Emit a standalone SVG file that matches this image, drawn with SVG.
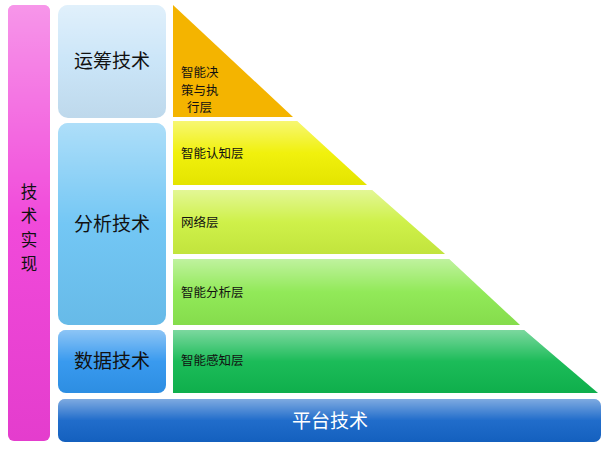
<svg xmlns="http://www.w3.org/2000/svg" width="605" height="453" viewBox="0 0 605 453">
<defs>
<style>
text{font-family:"Noto Sans CJK SC","Noto Sans",sans-serif;}
.big{font-size:19px;fill:#111;}
.v{font-size:16.5px;fill:#111;}
.sm{font-size:12.5px;fill:#111;}
.plat{font-size:19px;fill:#fff;}
</style>
<linearGradient id="gl" x1="0" y1="0" x2="0" y2="1"><stop offset="0" stop-color="#fff" stop-opacity="0.45"/><stop offset="0.5" stop-color="#fff" stop-opacity="0.05"/><stop offset="1" stop-color="#000" stop-opacity="0.05"/></linearGradient>
</defs>
<rect width="605" height="453" fill="#fff"/>
<g id="impl"><rect x="8" y="5" width="42" height="436" rx="6" fill="#f040d8"/><rect x="8" y="5" width="42" height="436" rx="6" fill="url(#gl)"/>
<text class="v" x="29" y="198" text-anchor="middle">技</text><text class="v" x="29" y="222" text-anchor="middle">术</text><text class="v" x="29" y="246" text-anchor="middle">实</text><text class="v" x="29" y="270" text-anchor="middle">现</text></g>
<g id="yunchou"><rect x="58" y="5" width="108" height="113" rx="10" fill="#c8e4f8"/><rect x="58" y="5" width="108" height="113" rx="10" fill="url(#gl)"/><text class="big" x="112" y="68" text-anchor="middle">运筹技术</text></g>
<g id="fenxi"><rect x="58" y="123" width="108" height="202" rx="10" fill="#6cc4f4"/><rect x="58" y="123" width="108" height="202" rx="10" fill="url(#gl)"/><text class="big" x="112" y="231" text-anchor="middle">分析技术</text></g>
<g id="shuju"><rect x="58" y="330" width="108" height="63" rx="8" fill="#2f95ee"/><rect x="58" y="330" width="108" height="63" rx="8" fill="url(#gl)"/><text class="big" x="112" y="368" text-anchor="middle">数据技术</text></g>
<g id="pingtai"><rect x="58" y="399" width="543" height="43" rx="7" fill="#1565c8"/><rect x="58" y="399" width="543" height="43" rx="7" fill="url(#gl)"/><text class="plat" x="330" y="428" text-anchor="middle">平台技术</text></g>
<g id="l1"><polygon points="173,5 293,117 173,117" fill="#f4b400"/><text class="sm" x="181" y="77">智能决</text><text class="sm" x="181" y="95">策与执</text><text class="sm" x="187" y="112">行层</text></g>
<g id="l2"><polygon points="173,121 297,121 367,185 173,185" fill="#f0f000"/><polygon points="173,121 297,121 367,185 173,185" fill="url(#gl)"/><text class="sm" x="181" y="158">智能认知层</text></g>
<g id="l3"><polygon points="173,190 372,190 445,254 173,254" fill="#ccf040"/><polygon points="173,190 372,190 445,254 173,254" fill="url(#gl)"/><text class="sm" x="181" y="227">网络层</text></g>
<g id="l4"><polygon points="173,259 449,259 520,325 173,325" fill="#8ce850"/><polygon points="173,259 449,259 520,325 173,325" fill="url(#gl)"/><text class="sm" x="181" y="297">智能分析层</text></g>
<g id="l5"><polygon points="173,330 524,330 598,393 173,393" fill="#10b850"/><polygon points="173,330 524,330 598,393 173,393" fill="url(#gl)"/><text class="sm" x="181" y="365">智能感知层</text></g>
<g id="connectors"/>
</svg>
